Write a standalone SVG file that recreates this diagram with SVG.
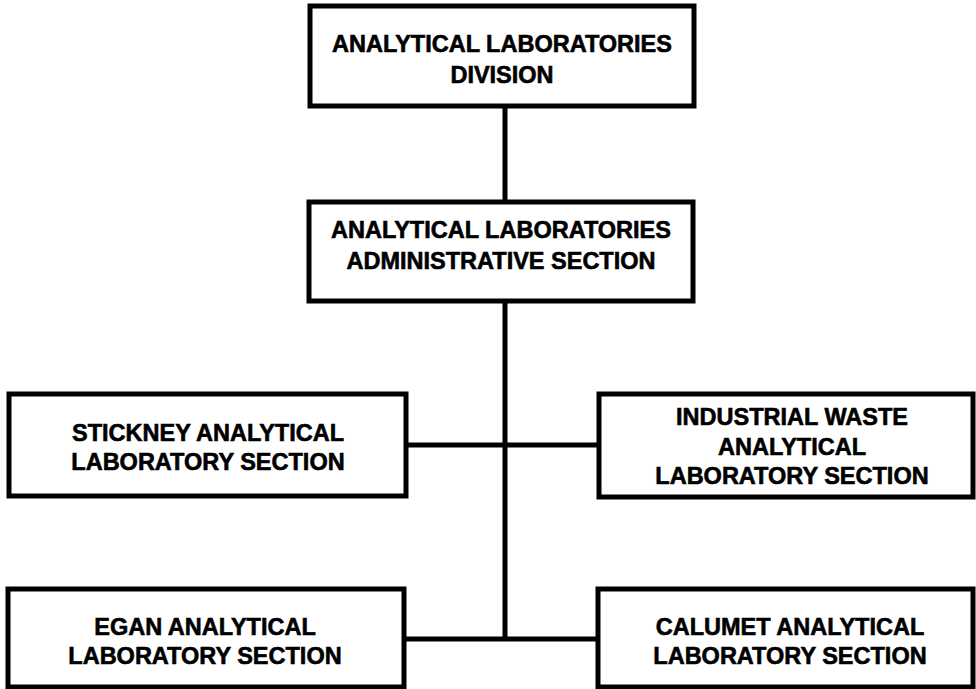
<svg xmlns="http://www.w3.org/2000/svg" width="976" height="689" viewBox="0 0 976 689">
<style>
.box{fill:#fff;stroke:#000;stroke-width:5}
.ln{stroke:#000;stroke-width:5;fill:none}
text{font-family:"Liberation Sans",Arial,sans-serif;font-weight:bold;font-size:23.5px;fill:#000;stroke:#000;stroke-width:0.6;text-anchor:middle}
</style>
<rect width="976" height="689" fill="#fff"/>
<g id="connectors">
<line class="ln" x1="505" y1="106" x2="505" y2="202"/>
<line class="ln" x1="505" y1="301" x2="505" y2="639"/>
<line class="ln" x1="406" y1="445" x2="599" y2="445"/>
<line class="ln" x1="404" y1="639" x2="598" y2="639"/>
</g>
<g id="division">
<rect class="box" x="310" y="6" width="384" height="100"/>
<text x="502" y="52">ANALYTICAL LABORATORIES</text>
<text x="502" y="83">DIVISION</text>
</g>
<g id="admin">
<rect class="box" x="309" y="202" width="384" height="99"/>
<text x="501" y="238">ANALYTICAL LABORATORIES</text>
<text x="501" y="269">ADMINISTRATIVE SECTION</text>
</g>
<g id="stickney">
<rect class="box" x="9" y="394" width="397" height="102"/>
<text x="208" y="441">STICKNEY ANALYTICAL</text>
<text x="208" y="470">LABORATORY SECTION</text>
</g>
<g id="industrial">
<rect class="box" x="599" y="394" width="374" height="103"/>
<text x="792" y="425">INDUSTRIAL WASTE</text>
<text x="792" y="455">ANALYTICAL</text>
<text x="792" y="484">LABORATORY SECTION</text>
</g>
<g id="egan">
<rect class="box" x="8" y="589" width="396" height="98"/>
<text x="205" y="635">EGAN ANALYTICAL</text>
<text x="205" y="664">LABORATORY SECTION</text>
</g>
<g id="calumet">
<rect class="box" x="598" y="589" width="375" height="98"/>
<text x="790" y="635">CALUMET ANALYTICAL</text>
<text x="790" y="664">LABORATORY SECTION</text>
</g>
</svg>
